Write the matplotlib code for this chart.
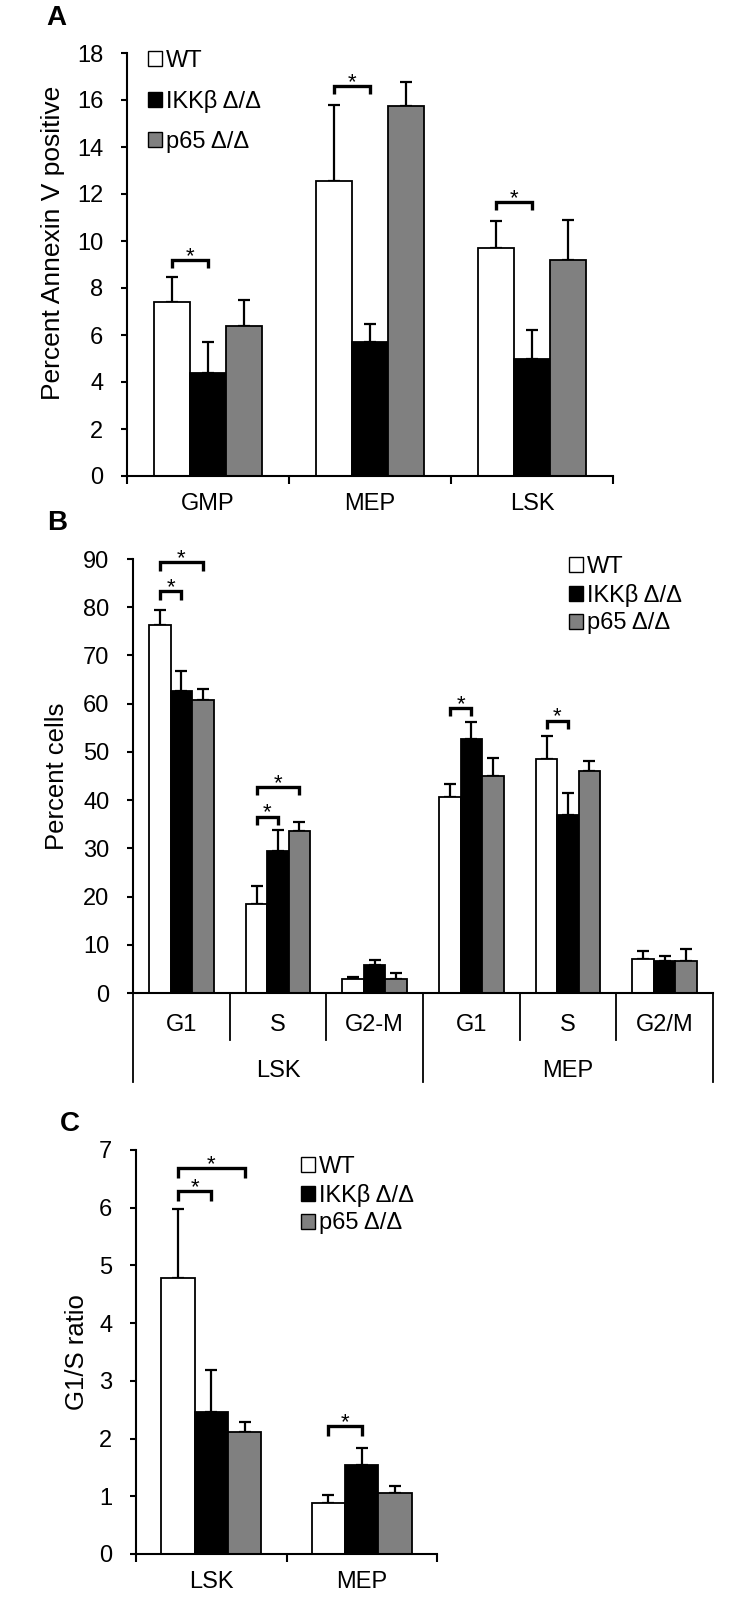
import matplotlib
matplotlib.use("Agg")
import matplotlib.pyplot as plt
from matplotlib.patches import Patch
import numpy as np

plt.rcParams["font.family"] = ["Liberation Sans", "DejaVu Sans"]

# ---- data ----
genotypes = ["WT", "IKKβ Δ/Δ", "p65 Δ/Δ"]
colors = ["white", "black", "#808080"]

# A: percent Annexin V positive
groups_a = ["GMP", "MEP", "LSK"]
wt_a = [7.4, 12.55, 9.7]
wt_a_err = [1.05, 3.25, 1.15]
ikk_a = [4.4, 5.7, 5.0]
ikk_a_err = [1.3, 0.75, 1.2]
p65_a = [6.4, 15.75, 9.2]
p65_a_err = [1.1, 1.0, 1.7]
# (group, bar from, bar to, bracket height)
brackets_a = [(0, 0, 1, 9.2), (1, 0, 1, 16.6), (2, 0, 1, 11.65)]

# B: percent cells per cell-cycle phase
phases_b = ["G1", "S", "G2-M", "G1", "S", "G2/M"]
populations_b = ["LSK", "MEP"]
wt_b = [76.4, 18.5, 2.8, 40.6, 48.5, 7.0]
wt_b_err = [3.1, 3.6, 0.6, 2.7, 4.8, 1.8]
ikk_b = [62.6, 29.4, 5.8, 52.7, 37.0, 6.7]
ikk_b_err = [4.2, 4.3, 1.1, 3.4, 4.5, 0.9]
p65_b = [60.8, 33.5, 2.9, 45.1, 46.0, 6.7]
p65_b_err = [2.3, 2.0, 1.2, 3.7, 2.1, 2.4]
brackets_b = [(0, 0, 2, 89.3), (0, 0, 1, 83.3), (1, 0, 2, 42.7),
              (1, 0, 1, 36.6), (3, 0, 1, 59.1), (4, 0, 1, 56.5)]

# C: G1/S ratio
groups_c = ["LSK", "MEP"]
wt_c = [4.79, 0.88]
wt_c_err = [1.19, 0.14]
ikk_c = [2.46, 1.54]
ikk_c_err = [0.72, 0.29]
p65_c = [2.12, 1.05]
p65_c_err = [0.17, 0.13]
brackets_c = [(0, 0, 2, 6.69), (0, 0, 1, 6.29), (1, 0, 1, 2.21)]

W, H = 756, 1599
BAR_W = 0.222
TICK_FS = 17
LABEL_FS = 18.5

fig = plt.figure(figsize=(W / 100, H / 100), dpi=100)


def add_axes_px(left, top, right, bottom):
    return fig.add_axes([left / W, 1 - bottom / H, (right - left) / W, (bottom - top) / H])


def style_axes(ax, ymax, ystep):
    for s in ("top", "right"):
        ax.spines[s].set_visible(False)
    for s in ("left", "bottom"):
        ax.spines[s].set_linewidth(1.5)
    ax.set_ylim(0, ymax)
    ax.set_yticks(np.arange(0, ymax + 0.001, ystep))
    ax.tick_params(axis="y", length=4, width=1.5, pad=13, labelsize=TICK_FS)


def draw_bars(ax, series, errors):
    n = len(series[0])
    x = np.arange(n)
    for k, (vals, errs, c) in enumerate(zip(series, errors, colors)):
        xs = x + (k - 1) * BAR_W
        ax.bar(xs, vals, BAR_W, color=c, edgecolor="black", linewidth=1.3, zorder=2)
        ax.errorbar(xs, vals, yerr=[np.zeros(n), errs], fmt="none", ecolor="black",
                    elinewidth=1.6, capsize=4, capthick=1.6, zorder=1)
    ax.set_xlim(-0.5, n - 0.5)


def draw_brackets(ax, brackets, drop):
    for g, i, j, y in brackets:
        x1 = g + (i - 1) * BAR_W
        x2 = g + (j - 1) * BAR_W
        ax.plot([x1, x1, x2, x2], [y - drop, y, y, y - drop], color="black",
                lw=2.4, solid_joinstyle="miter", solid_capstyle="butt",
                clip_on=False, zorder=3)
        ax.annotate("*", xy=((x1 + x2) / 2, y), xytext=(0, -1.5),
                    textcoords="offset points", ha="center", va="baseline",
                    fontsize=16)


def simple_xaxis(ax, labels):
    n = len(labels)
    ax.set_xticks(np.arange(n), labels)
    ax.set_xticks(np.arange(n + 1) - 0.5, minor=True)
    ax.tick_params(axis="x", which="major", length=0, pad=12, labelsize=TICK_FS)
    ax.tick_params(axis="x", which="minor", length=5.5, width=1.5, direction="out")


def add_legend(ax, x_px, top_px, spacing):
    handles = [Patch(facecolor=c, edgecolor="black", linewidth=1.0) for c in colors]
    ax.legend(handles, genotypes, loc="upper left",
              bbox_to_anchor=(x_px / W, 1 - top_px / H), bbox_transform=fig.transFigure,
              frameon=False, fontsize=TICK_FS, handlelength=0.6, handleheight=0.6,
              handletextpad=0.15, labelspacing=spacing, borderpad=0, borderaxespad=0)


# ---- panel A ----
ax_a = add_axes_px(127, 53, 613, 476)
draw_bars(ax_a, [wt_a, ikk_a, p65_a], [wt_a_err, ikk_a_err, p65_a_err])
style_axes(ax_a, 18, 2)
simple_xaxis(ax_a, groups_a)
draw_brackets(ax_a, brackets_a, 0.35)
ax_a.set_ylabel("Percent Annexin V positive", fontsize=19)
ax_a.yaxis.set_label_coords((53 - 127) / 486, 0.55)
ax_a.yaxis.label.set_va("center")
add_legend(ax_a, 148, 50, 0.76)
fig.text(56 / W, 1 - 18 / H, "A", fontsize=20, fontweight="bold", ha="center", va="center")

# ---- panel B ----
ax_b = add_axes_px(133, 559, 713, 993)
draw_bars(ax_b, [wt_b, ikk_b, p65_b], [wt_b_err, ikk_b_err, p65_b_err])
style_axes(ax_b, 90, 10)
ax_b.set_xticks([])
draw_brackets(ax_b, brackets_b, 1.7)
ax_b.set_ylabel("Percent cells", fontsize=LABEL_FS)
ax_b.yaxis.set_label_coords((57 - 133) / 580, 0.5)
ax_b.yaxis.label.set_va("center")
add_legend(ax_b, 569, 556, 0.24)
fig.text(57 / W, 1 - 523 / H, "B", fontsize=20, fontweight="bold", ha="center", va="center")

# two-level category axis
trans_b = ax_b.get_xaxis_transform()
n_b = len(phases_b)
per_pop = n_b // len(populations_b)
for b in range(n_b + 1):
    bottom = -0.205 if b % per_pop == 0 else -0.108
    ax_b.plot([b - 0.5, b - 0.5], [0, bottom], transform=trans_b, color="black",
              lw=1.3, clip_on=False)
for k, lab in enumerate(phases_b):
    ax_b.text(k, -0.074, lab, transform=trans_b, ha="center", va="center", fontsize=TICK_FS)
for p, lab in enumerate(populations_b):
    ax_b.text(p * per_pop + (per_pop - 1) / 2, -0.18, lab, transform=trans_b,
              ha="center", va="center", fontsize=TICK_FS)

# ---- panel C ----
ax_c = add_axes_px(136, 1150, 437, 1554)
draw_bars(ax_c, [wt_c, ikk_c, p65_c], [wt_c_err, ikk_c_err, p65_c_err])
style_axes(ax_c, 7, 1)
simple_xaxis(ax_c, groups_c)
draw_brackets(ax_c, brackets_c, 0.17)
ax_c.set_ylabel("G1/S ratio", fontsize=LABEL_FS)
ax_c.yaxis.set_label_coords((77 - 136) / 301, 0.5)
ax_c.yaxis.label.set_va("center")
add_legend(ax_c, 301, 1156, 0.24)
fig.text(70 / W, 1 - 1124 / H, "C", fontsize=20, fontweight="bold", ha="center", va="center")

fig.savefig("out.png", dpi=100)
